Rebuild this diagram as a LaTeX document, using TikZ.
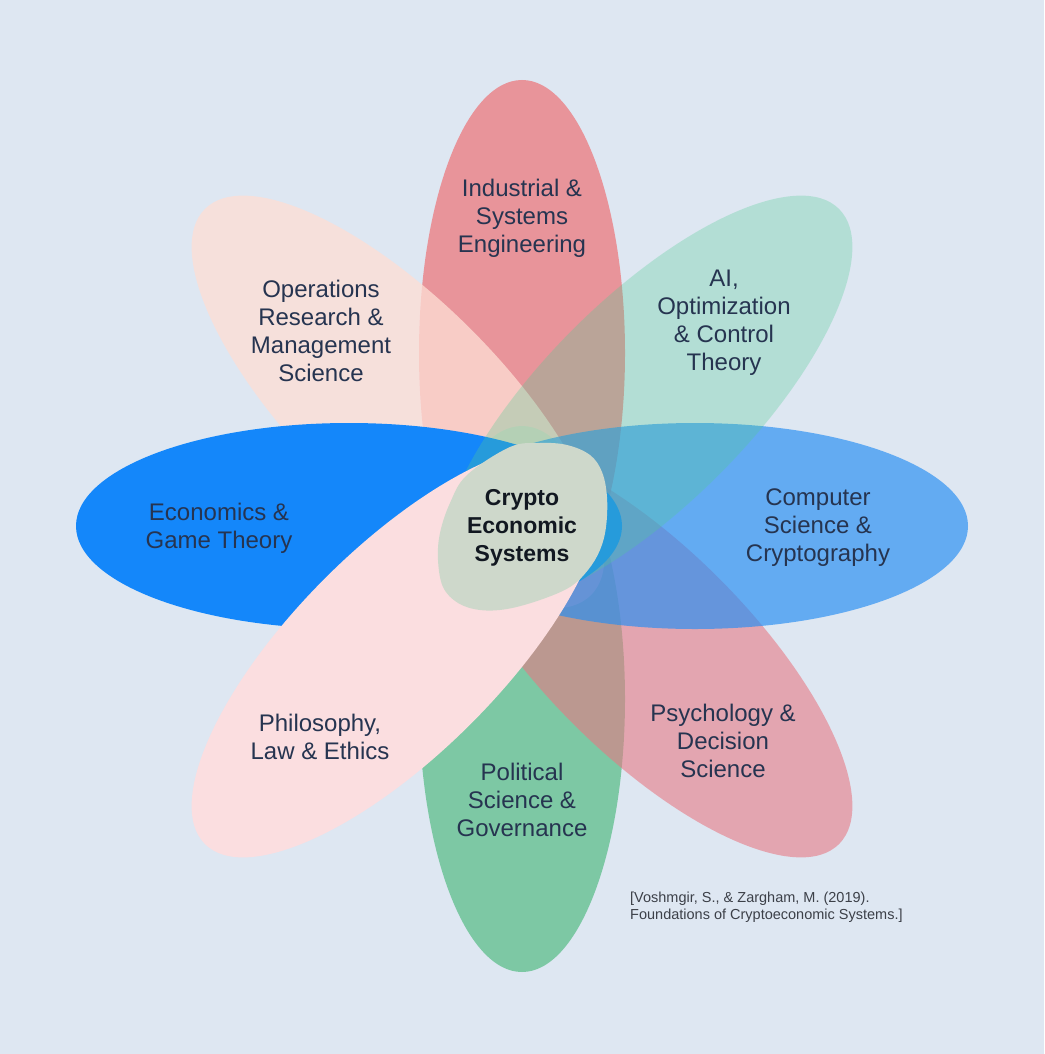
\documentclass[tikz,border=0pt]{standalone}
\usepackage{fontspec}
\setmainfont{Liberation Sans}
\definecolor{bgcol}{RGB}{222,231,242}
\definecolor{indcol}{RGB}{232,148,154}
\definecolor{polcol}{RGB}{93,190,139}
\definecolor{opscol}{RGB}{254,222,213}
\definecolor{ecocol}{RGB}{20,135,250}
\definecolor{psycol}{RGB}{232,119,130}
\definecolor{cscol}{RGB}{40,142,242}
\definecolor{aicol}{RGB}{82,204,149}
\definecolor{phicol}{RGB}{251,222,224}
\definecolor{cencol}{RGB}{206,216,203}
\definecolor{labelink}{RGB}{38,52,80}
\definecolor{coreink}{RGB}{18,24,33}
\definecolor{citeink}{RGB}{60,64,72}
\begin{document}
\begin{tikzpicture}[x=1pt,y=-1pt,
  petal/.style={font=\fontsize{24}{28}\selectfont, text=labelink, align=center, inner sep=0pt},
  core/.style={font=\fontsize{23}{28}\selectfont\bfseries, text=coreink, align=center, inner sep=0pt},
  cite/.style={font=\fontsize{14.5}{16.5}\selectfont, text=citeink, align=left, inner sep=0pt}]
% canvas
\fill[bgcol] (0,0) rectangle (1044,1054);
\useasboundingbox (0,0) rectangle (1044,1054);

% petals, back to front
\fill[indcol] (522,353) ellipse [x radius=103pt, y radius=273pt];
\fill[polcol, fill opacity=0.75] (522,699) ellipse [x radius=103pt, y radius=273pt];
\fill[opscol, fill opacity=0.76, shift={(398,402)}, rotate=-45] (0,0) ellipse [x radius=273pt, y radius=103pt];
\fill[psycol, fill opacity=0.58, shift={(646,651)}, rotate=-45] (0,0) ellipse [x radius=273pt, y radius=103pt];
\fill[cscol, fill opacity=0.67] (695,526) ellipse [x radius=273pt, y radius=103pt];
\fill[ecocol] (349,526) ellipse [x radius=273pt, y radius=103pt];
\fill[aicol, fill opacity=0.3, shift={(646,402)}, rotate=45] (0,0) ellipse [x radius=273pt, y radius=103pt];
\fill[phicol, shift={(398,651)}, rotate=45] (0,0) ellipse [x radius=273pt, y radius=103pt];

% core blob
\fill[cencol] plot[smooth cycle, tension=0.6] coordinates {
  (467,475) (510,447) (540,443) (567,445) (590,455) (602,472) (607,497)
  (606,527) (600,550) (588,570) (570,587) (540,600) (507,609) (480,610)
  (458,603) (443,587) (438,560) (440,533) (450,503)};

% labels
\node[petal] (ind) at (522,218) {Industrial \&\\Systems\\Engineering};
\node[petal] (ops) at (321,331) {Operations\\Research \&\\Management\\Science};
\node[petal] (ai)  at (724,323) {AI,\\Optimization\\\& Control\\Theory};
\node[petal] (eco) at (219,528) {Economics \&\\Game Theory};
\node[petal] (cs)  at (818,528) {Computer\\Science \&\\Cryptography};
\node[core]  (ces) at (522,528) {Crypto\\Economic\\Systems};
\node[petal] (phi) at (320,737) {Philosophy,\\Law \& Ethics};
\node[petal] (pol) at (522,800) {Political\\Science \&\\Governance};
\node[petal] (psy) at (723,741) {Psychology \&\\Decision\\Science};
\node[cite, anchor=base west] (ref) at (630,919) {[Voshmgir, S., \& Zargham, M. (2019).\\Foundations of Cryptoeconomic Systems.]};
\end{tikzpicture}
\end{document}
